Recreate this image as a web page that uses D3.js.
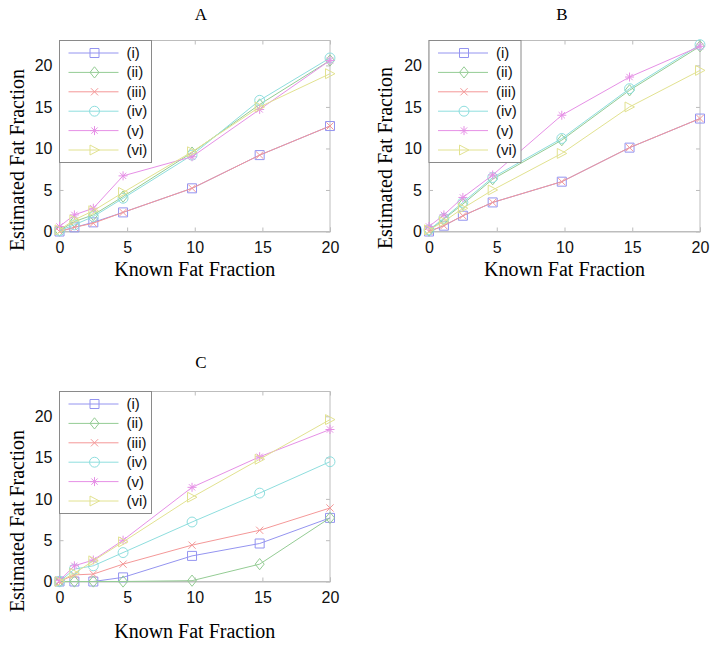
<!DOCTYPE html>
<html><head><meta charset="utf-8">
<script src="https://cdn.jsdelivr.net/npm/d3@7"></script>
<style>body{margin:0;background:#fff}svg{display:block}</style>
</head><body>
<svg id="chart" width="716" height="648"></svg>
<script>
const knownFat = [0, 1.1, 2.5, 4.7, 9.8, 14.8, 20];
const seriesNames = ["(i)", "(ii)", "(iii)", "(iv)", "(v)", "(vi)"];
const seriesColors = ["#9494f0", "#94cc94", "#f49898", "#8edede", "#e690e6", "#e2e290"];
const seriesMarkers = ["square", "diamond", "x", "circle", "asterisk", "triangle"];
const xTicks = [0, 5, 10, 15, 20];
const yTicks = [0, 5, 10, 15, 20];

const panelATitle = "A";
const panelA = [
  [0, 0.5, 1.1, 2.3, 5.2, 9.2, 12.7],
  [0.1, 1.2, 2.0, 4.2, 9.5, 15.3, 20.6],
  [0, 0.5, 1.0, 2.3, 5.2, 9.2, 12.7],
  [0.1, 0.8, 1.8, 4.0, 9.2, 15.8, 20.9],
  [0.6, 2.0, 2.8, 6.7, 9.0, 14.7, 20.6],
  [0.2, 1.4, 2.5, 4.7, 9.6, 15.0, 19.0]
];
const panelBTitle = "B";
const panelB = [
  [0, 0.7, 1.9, 3.5, 6.0, 10.1, 13.6],
  [0.1, 1.5, 3.3, 6.3, 11.0, 17.0, 22.3],
  [0, 0.7, 1.9, 3.5, 6.0, 10.1, 13.6],
  [0.2, 1.6, 3.5, 6.5, 11.2, 17.2, 22.5],
  [0.6, 2.0, 4.1, 6.8, 14.0, 18.6, 22.3],
  [0.2, 1.2, 2.8, 5.0, 9.4, 15.0, 19.4]
];
const panelCTitle = "C";
const panelC = [
  [0, 0, 0, 0.5, 3.1, 4.6, 7.7],
  [0, 0, 0, 0, 0.1, 2.1, 7.7],
  [0, 0.8, 0.9, 2.1, 4.4, 6.2, 8.9],
  [0, 1.5, 1.9, 3.5, 7.2, 10.7, 14.5],
  [0.1, 1.9, 2.6, 5.0, 11.4, 15.1, 18.4],
  [0, 1.0, 2.5, 4.8, 10.2, 14.8, 19.6]
];

const xLabel = "Known Fat Fraction";
const yLabel = "Estimated Fat Fraction";

const svg = d3.select("#chart");

function markerPath(type, s) {
  const h = s / 2;
  switch (type) {
    case "square": return `M${-h},${-h}H${h}V${h}H${-h}Z`;
    case "diamond": return `M0,${-h*1.25}L${h},0L0,${h*1.25}L${-h},0Z`;
    case "x": return `M${-h*0.8},${-h*0.8}L${h*0.8},${h*0.8}M${-h*0.8},${h*0.8}L${h*0.8},${-h*0.8}`;
    case "circle": return d3.arc()({innerRadius:0, outerRadius:h*1.1, startAngle:0, endAngle:2*Math.PI});
    case "asterisk": return `M0,${-h}V${h}M${-h},0H${h}M${-h*0.7},${-h*0.7}L${h*0.7},${h*0.7}M${-h*0.7},${h*0.7}L${h*0.7},${-h*0.7}`;
    case "triangle": return `M${-h},${-h*1.1}L${h*1.1},0L${-h},${h*1.1}Z`;
  }
}

function drawPanel(cfg) {
  const {left, top, width, height, title, data, titleX, titleY, xLabY, yLabX, yLabY} = cfg;
  const g = svg.append("g");
  const x = d3.scaleLinear().domain([0, 20]).range([left, left + width]);
  const y = d3.scaleLinear().domain([0, 23]).range([top + height, top]);

  g.append("rect").attr("x", left).attr("y", top).attr("width", width).attr("height", height)
    .attr("fill", "none").attr("stroke", "#bdbdbd").attr("stroke-width", 1);

  const xAxis = d3.axisBottom(x).tickValues(xTicks).tickSize(-4).tickPadding(10).tickFormat(d3.format("d"));
  const yAxis = d3.axisLeft(y).tickValues(yTicks).tickSize(-4).tickPadding(7).tickFormat(d3.format("d"));
  const gx = g.append("g").attr("transform", `translate(0,${top + height})`).call(xAxis);
  const gy = g.append("g").attr("transform", `translate(${left},0)`).call(yAxis);
  [gx, gy].forEach(a => {
    a.select(".domain").attr("stroke", "#bdbdbd");
    a.selectAll(".tick line").attr("stroke", "#bdbdbd");
    a.selectAll(".tick text").attr("font-family", "Liberation Sans, Arial, sans-serif")
      .attr("font-size", 16).attr("fill", "#111");
  });
  g.append("g").attr("transform", `translate(${left + width},0)`)
    .call(d3.axisRight(y).tickValues(yTicks).tickSize(-4).tickFormat(""))
    .call(a => { a.select(".domain").remove(); a.selectAll("line").attr("stroke", "#bdbdbd"); });
  g.append("g").attr("transform", `translate(0,${top})`)
    .call(d3.axisTop(x).tickValues(xTicks).tickSize(-4).tickFormat(""))
    .call(a => { a.select(".domain").remove(); a.selectAll("line").attr("stroke", "#bdbdbd"); });

  const line = d3.line().x((d, i) => x(knownFat[i])).y(d => y(d));
  data.forEach((vals, si) => {
    const col = seriesColors[si];
    g.append("path").datum(vals).attr("d", line).attr("fill", "none")
      .attr("stroke", col).attr("stroke-width", 1);
    g.selectAll(null).data(vals).enter().append("path")
      .attr("transform", (d, i) => `translate(${x(knownFat[i])},${y(d)})`)
      .attr("d", markerPath(seriesMarkers[si], 9))
      .attr("fill", "none").attr("stroke", col).attr("stroke-width", 1);
  });

  const lg = g.append("g").attr("transform", `translate(${left},${top})`);
  lg.append("rect").attr("x", 0).attr("y", 0).attr("width", 92).attr("height", 122)
    .attr("fill", "#fff").attr("stroke", "#8a8a8a").attr("stroke-width", 1);
  seriesNames.forEach((nm, si) => {
    const ry = 12.5 + si * 19.4;
    lg.append("line").attr("x1", 9).attr("x2", 59).attr("y1", ry).attr("y2", ry)
      .attr("stroke", seriesColors[si]).attr("stroke-width", 1);
    lg.append("path").attr("transform", `translate(35,${ry})`)
      .attr("d", markerPath(seriesMarkers[si], 9))
      .attr("fill", "none").attr("stroke", seriesColors[si]);
    lg.append("text").attr("x", 67).attr("y", ry + 5).text(nm)
      .attr("font-family", "Liberation Sans, Arial, sans-serif").attr("font-size", 15).attr("fill", "#111");
  });

  g.append("text").attr("x", titleX).attr("y", titleY).attr("text-anchor", "middle")
    .attr("font-family", "Liberation Serif, Times New Roman, serif").attr("font-size", 17).text(title);
  g.append("text").attr("x", left + width / 2).attr("y", xLabY).attr("text-anchor", "middle")
    .attr("font-family", "Liberation Serif, Times New Roman, serif").attr("font-size", 20).text(xLabel);
  g.append("text").attr("transform", `translate(${yLabX},${yLabY}) rotate(-90)`).attr("text-anchor", "middle")
    .attr("font-family", "Liberation Serif, Times New Roman, serif").attr("font-size", 20).text(yLabel);
}

drawPanel({left: 59.5, top: 40.5, width: 270.5, height: 191, title: panelATitle, data: panelA,
  titleX: 201, titleY: 20, xLabY: 276, yLabX: 24, yLabY: 160});
drawPanel({left: 429, top: 40.5, width: 271, height: 191, title: panelBTitle, data: panelB,
  titleX: 562, titleY: 20, xLabY: 276, yLabX: 392, yLabY: 158});
drawPanel({left: 59.5, top: 391.5, width: 270.5, height: 190, title: panelCTitle, data: panelC,
  titleX: 201, titleY: 368, xLabY: 638, yLabX: 24, yLabY: 521});
</script>
</body></html>
